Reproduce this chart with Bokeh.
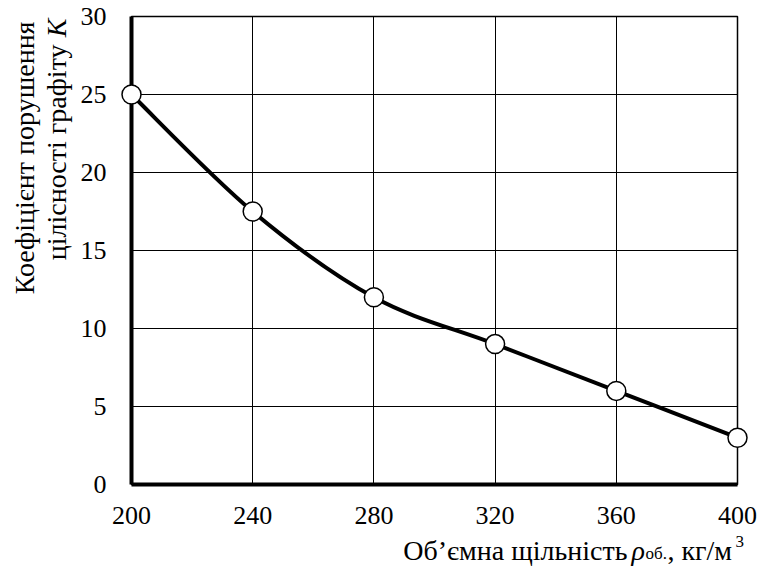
import math
from bokeh.plotting import figure
from bokeh.models import Range1d, FixedTicker
from bokeh.core.properties import value
from bokeh.embed import file_html
from bokeh.resources import INLINE

# ---- data ----
density = [200, 240, 280, 320, 360, 400]
coef_k = [25, 17.5, 12, 9, 6, 3]
x_ticks = [200, 240, 280, 320, 360, 400]
y_ticks = [0, 5, 10, 15, 20, 25, 30]
x_label_main = "Об’ємна щільність"
x_label_rho = "ρ"
x_label_sub = "об."
x_label_unit = ", кг/м"
x_label_sup = "3"
y_label_1 = "Коефіцієнт порушення"
y_label_2 = "цілісності графіту"
y_label_k = "K"

FONT = "Liberation Serif"

W, H = 758, 569
ML, MR, MT, MB = 131, 21, 16, 85

p = figure(width=W, height=H, output_backend="svg", toolbar_location=None,
           x_range=Range1d(200, 400), y_range=Range1d(0, 30),
           min_border_left=ML, min_border_right=MR,
           min_border_top=MT, min_border_bottom=MB)
p.background_fill_color = "white"
p.border_fill_color = "white"
p.outline_line_color = "black"
p.outline_line_width = 1.5

for ax, ticks in ((p.xaxis, x_ticks), (p.yaxis, y_ticks)):
    ax.ticker = FixedTicker(ticks=ticks)
    ax.axis_line_width = 4
    ax.axis_line_color = "black"
    ax.major_tick_line_color = None
    ax.minor_tick_line_color = None
    ax.major_label_text_font = FONT
    ax.major_label_text_font_size = "26px"
    ax.major_label_text_color = "black"
p.xaxis.major_label_standoff = 16
p.yaxis.major_label_standoff = 19

p.grid.grid_line_color = "black"
p.grid.grid_line_width = 1
p.grid.grid_line_alpha = 1.0

# smooth curve through the points (Catmull-Rom as cubic Bezier)
n = len(density)
x0s, y0s, x1s, y1s, cx0, cy0, cx1, cy1 = [], [], [], [], [], [], [], []
for i in range(n - 1):
    a = max(i - 1, 0)
    d = min(i + 2, n - 1)
    x0s.append(density[i]); y0s.append(coef_k[i])
    x1s.append(density[i + 1]); y1s.append(coef_k[i + 1])
    cx0.append(density[i] + (density[i + 1] - density[a]) / 6)
    cy0.append(coef_k[i] + (coef_k[i + 1] - coef_k[a]) / 6)
    cx1.append(density[i + 1] - (density[d] - density[i]) / 6)
    cy1.append(coef_k[i + 1] - (coef_k[d] - coef_k[i]) / 6)

p.bezier(x0=x0s, y0=y0s, x1=x1s, y1=y1s, cx0=cx0, cy0=cy0, cx1=cx1, cy1=cy1,
         line_color="black", line_width=4, level="overlay")
p.scatter(density, coef_k, size=19, marker="circle", fill_color="white",
          line_color="black", line_width=1.5, level="overlay")

# pixel -> data helpers for title placement (titles sit outside the frame)
PX_L, PX_R = ML, W - MR
PY_T, PY_B = MT, H - MB


def dx(px):
    return 200 + (px - PX_L) / (PX_R - PX_L) * 200


def dy(py):
    return (PY_B - py) / (PY_B - PY_T) * 30


def lab(text, px, py, size=28, align="left", angle=0.0, style="normal"):
    p.text(x=[dx(px)], y=[dy(py)], text=[text], text_font=value(FONT),
           text_font_size=f"{size}px", text_color="black",
           text_align=align, text_baseline="alphabetic",
           angle=angle, text_font_style=style, level="overlay")


# x axis title
lab(x_label_main, 627, 550, align="right")
lab(x_label_rho, 631, 550, style="italic")
lab(x_label_sub, 645, 553, size=17)
lab(x_label_unit, 667, 550)
lab(x_label_sup, 735, 541, size=17)

# y axis title (rotated)
lab(y_label_1, 24, 21, align="right", angle=math.pi / 2)
lab(y_label_2, 56, 44, align="right", angle=math.pi / 2)
lab(y_label_k, 56, 18, align="right", angle=math.pi / 2, style="italic")

open("out.html", "w").write(file_html(p, INLINE))
